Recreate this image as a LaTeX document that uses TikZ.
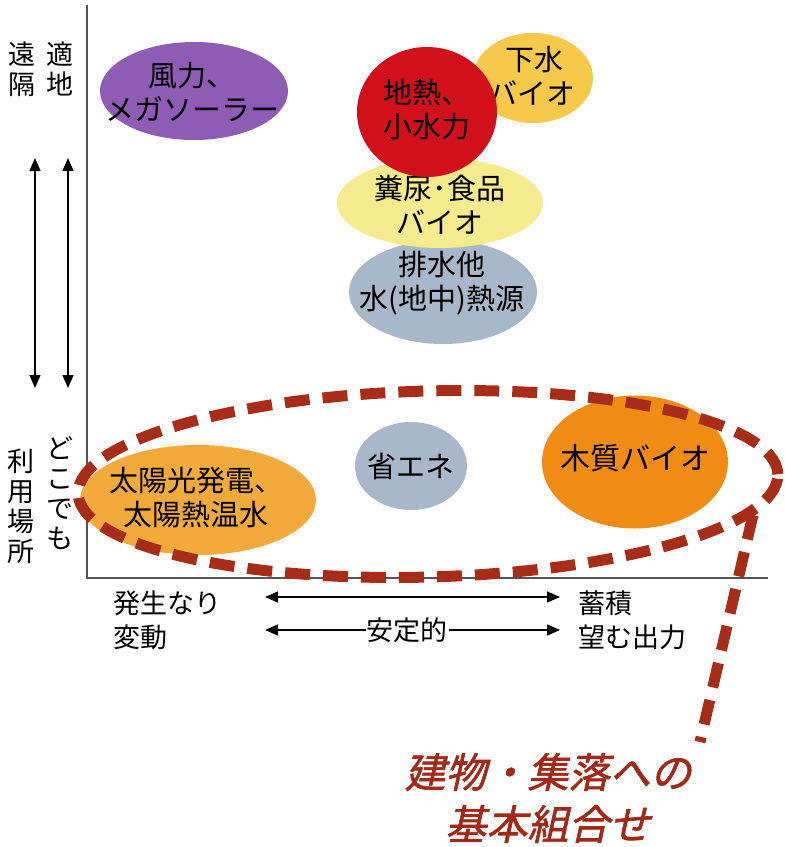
\documentclass[tikz,border=0pt]{standalone}
\usepackage{fontspec}
\setmainfont{Noto Sans CJK JP}
\newfontfamily\cjkbi[FakeSlant=0.22,FakeBold=1.5]{Noto Sans CJK JP}
\usetikzlibrary{shapes.geometric,arrows.meta}
\definecolor{cpurple}{HTML}{8E5BB5}
\definecolor{cred}{HTML}{D2101C}
\definecolor{cgold}{HTML}{F6C94A}
\definecolor{clyellow}{HTML}{F4EA8E}
\definecolor{cgray}{HTML}{A9B8C8}
\definecolor{csolar}{HTML}{F2AA3C}
\definecolor{cwood}{HTML}{F08C14}
\definecolor{cgroup}{HTML}{A82D19}
\definecolor{clabel}{HTML}{A02A1A}
\definecolor{caxis}{HTML}{555555}
\begin{document}
\begin{tikzpicture}[x=1pt,y=-1pt,
  blob/.style={ellipse,inner sep=0pt,outer sep=0pt},
  blobtext/.style={align=center,inner sep=0pt,font=\fontsize{29}{34}\selectfont},
  vtext/.style={font=\fontsize{27}{30}\selectfont,align=center,inner sep=0pt},
  axlabel/.style={font=\fontsize{27}{34}\selectfont,align=left,anchor=west,inner sep=0pt},
  axisline/.style={draw=caxis,line width=2pt},
  dblarrow/.style={line width=1.3pt,{Triangle[length=13pt,width=11pt]}-{Triangle[length=13pt,width=11pt]}},
  grpline/.style={draw=cgroup,line width=11pt,dash pattern=on 25pt off 13pt}
]
\useasboundingbox (0,0) rectangle (785,847);

% axes
\coordinate (ytop) at (87,5);
\coordinate (orig) at (87,578);
\coordinate (xend) at (768,578);
\draw[axisline] (ytop) -- (orig) -- (xend);

% left labels
\node[vtext] (enkaku) at (22,69) {遠\\隔};
\node[vtext] (tekichi) at (60,69) {適\\地};
\node[vtext] (riyou) at (21,506) {利\\用\\場\\所};
\node[vtext] (dokodemo) at (60,493) {ど\\こ\\で\\も};

% vertical arrows
\coordinate (a1t) at (35,158);
\coordinate (a1b) at (35,388);
\coordinate (a2t) at (68,158);
\coordinate (a2b) at (68,388);
\draw[dblarrow] (a1t) -- (a1b);
\draw[dblarrow] (a2t) -- (a2b);

% top ellipses
\node[blob,fill=cpurple,minimum width=188pt,minimum height=98pt] (wind) at (194,91) {};
\node[blobtext] (windtxt) at (192,92) {風力、\\メガソーラー};
\node[blob,fill=cgray,minimum width=188pt,minimum height=104pt] (haisui) at (443,292) {};
\node[blobtext] (haisuitxt) at (442,283) {排水他\\水(地中)熱源};
\node[blob,fill=clyellow,minimum width=206pt,minimum height=90pt] (funnyo) at (440,203) {};
\node[blobtext] (funnyotxt) at (440,205) {糞尿･食品\\バイオ};
\node[blob,fill=cgold,minimum width=120pt,minimum height=90pt] (gesui) at (533,78) {};
\node[blobtext] (gesuitxt) at (532,76) {\hspace*{4pt}下水\\バイオ};
\node[blob,fill=cred,minimum width=140pt,minimum height=130pt] (chinetsu) at (427,112) {};
\node[blobtext] (chinetsutxt) at (427,110) {地熱、\\小水力};

% bottom ellipses
\node[blob,fill=csolar,minimum width=236pt,minimum height=110pt] (solar) at (198,500) {};
\node[blobtext] (solartxt) at (196,498) {太陽光発電、\\太陽熱温水};
\node[blob,fill=cgray,minimum width=112pt,minimum height=88pt] (shoene) at (411,466) {};
\node[blobtext] (shoenetxt) at (411,466) {省エネ};
\node[blob,fill=cwood,minimum width=186pt,minimum height=133pt] (wood) at (635,462) {};
\node[blobtext,font=\fontsize{30}{34}\selectfont] (woodtxt) at (635,458) {木質バイオ};

% group ellipse
\node[ellipse,grpline,minimum width=700pt,minimum height=186pt,rotate=1.6] (group) at (428,484) {};
\coordinate (tailtop) at (753,515);
\coordinate (tailend) at (700,742);
\draw[grpline] (tailtop) -- (tailend);

% bottom axis labels
\node[axlabel] (hassei) at (113,620) {発生なり\\変動};
\node[axlabel] (chikuseki) at (578,620) {蓄積\\望む出力};
\coordinate (r1l) at (265,597);
\coordinate (r1r) at (560,597);
\coordinate (r2l) at (265,630);
\coordinate (r2r) at (560,630);
\draw[dblarrow] (r1l) -- (r1r);
\draw[dblarrow] (r2l) -- (r2r);
\node[fill=white,inner sep=1pt,font=\fontsize{27}{30}\selectfont] (antei) at (407,630) {安定的};

% caption
\node[text=clabel,align=center,font=\cjkbi\fontsize{41}{52}\selectfont,inner sep=0pt] (caption) at (548,798) {建物・集落への\\基本組合せ};
\end{tikzpicture}
\end{document}
